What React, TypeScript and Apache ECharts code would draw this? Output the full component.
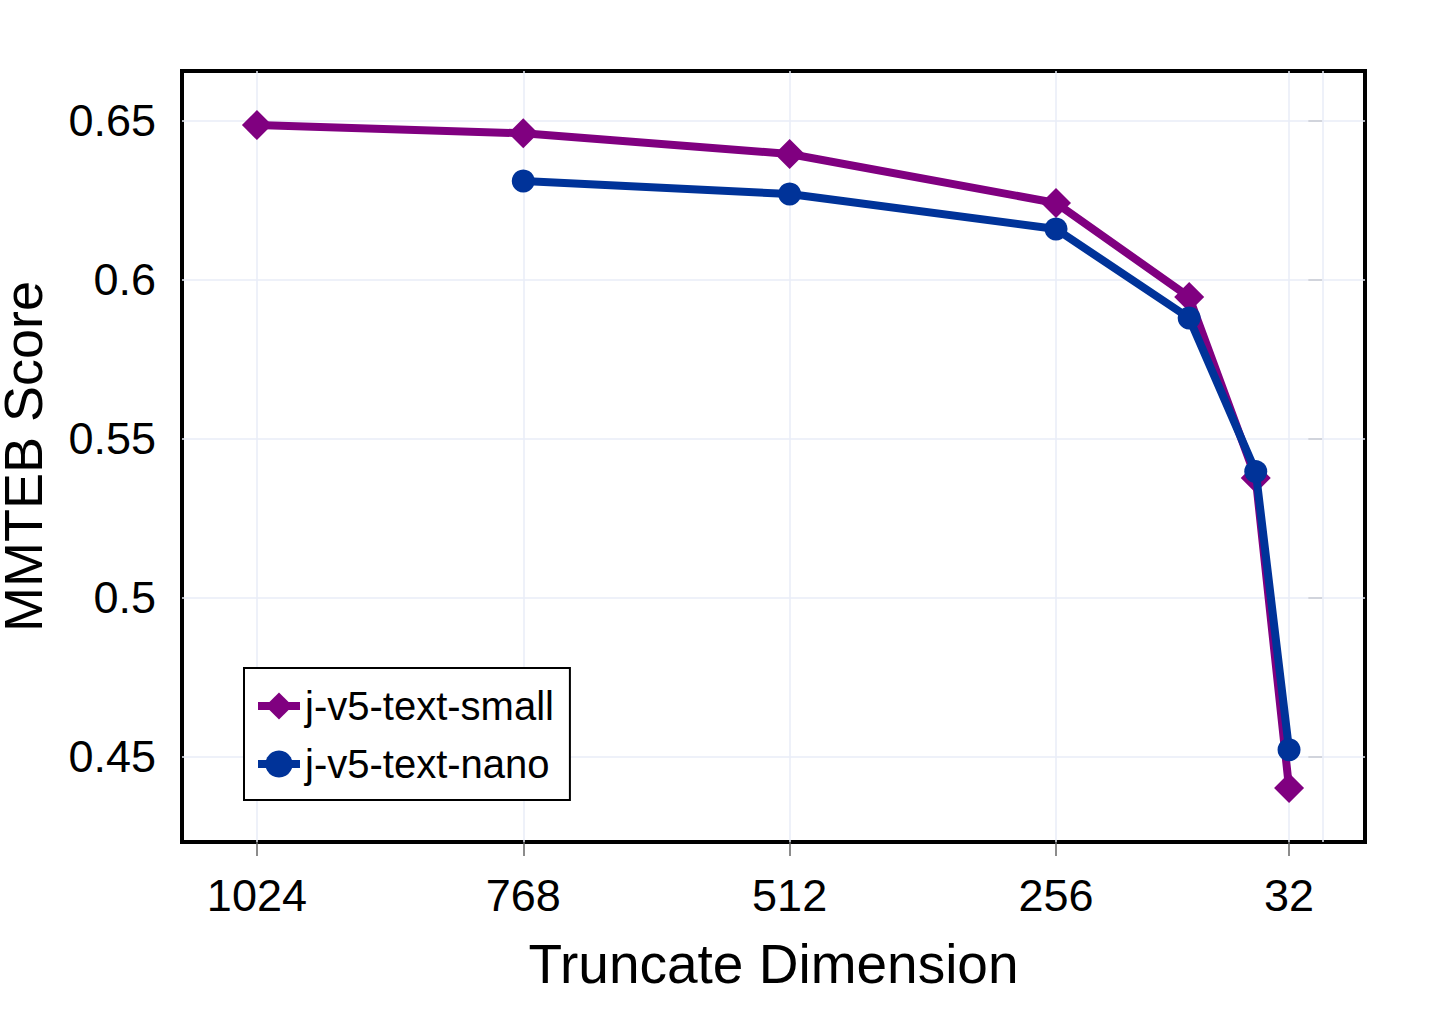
import React, { useEffect, useRef } from "react";
import * as echarts from "echarts";

const dims = [1024, 768, 512, 256, 128, 64, 32];
const smallScores = [0.6487, 0.6461, 0.6396, 0.6242, 0.5946, 0.5377, 0.4402];
const nanoScores = [null, 0.6311, 0.627, 0.616, 0.588, 0.5397, 0.4522];
const xTickValues = [1024, 768, 512, 256, 32];
const xGridValues = [1024, 768, 512, 256, 32, 0];
const yTickValues = [0.45, 0.5, 0.55, 0.6, 0.65];
const seriesNames = ["j-v5-text-small", "j-v5-text-nano"];

const FONT = "Liberation Sans, Arial, sans-serif";

export default function App() {
  const ref = useRef<HTMLDivElement>(null);
  useEffect(() => {
    if (!ref.current) return;
    const chart = echarts.init(ref.current, null, { renderer: "svg" });
    const gridStyle = { color: "#e9edf7", width: 1.5, type: "solid" };
    chart.setOption({
      animation: false,
      backgroundColor: "#ffffff",
      grid: {
        left: 182,
        top: 71,
        width: 1183,
        height: 771,
        show: true,
        containLabel: false,
        outerBoundsMode: "none",
        borderColor: "#000",
        borderWidth: 4,
        backgroundColor: "transparent",
      },
      xAxis: {
        type: "value",
        inverse: true,
        min: -41,
        max: 1096,
        name: "Truncate Dimension",
        nameLocation: "middle",
        nameGap: 94,
        nameTextStyle: { fontSize: 55, color: "#000", fontFamily: FONT },
        axisLine: { show: false },
        splitLine: { show: false },
        axisTick: {
          show: true,
          inside: false,
          length: 14,
          customValues: xTickValues,
          lineStyle: { color: "#666", width: 1.5 },
        },
        axisLabel: {
          customValues: xTickValues,
          fontSize: 45,
          color: "#000",
          fontFamily: FONT,
          margin: 31,
          formatter: (v: number) => String(v),
        },
      },
      yAxis: {
        type: "value",
        min: 0.4232,
        max: 0.6657,
        name: "MMTEB Score",
        nameLocation: "middle",
        nameGap: 132,
        nameTextStyle: { fontSize: 54, color: "#000", fontFamily: FONT },
        axisLine: { show: false },
        splitLine: { show: false },
        axisTick: {
          show: true,
          inside: false,
          length: 14,
          customValues: yTickValues,
          lineStyle: { color: "#666", width: 1.5 },
        },
        axisLabel: {
          customValues: yTickValues,
          fontSize: 45,
          color: "#000",
          fontFamily: FONT,
          margin: 26,
          formatter: (v: number) => String(Math.round(v * 100) / 100),
        },
      },
      legend: {
        left: 244,
        top: 668,
        orient: "vertical",
        padding: [18, 16, 16, 10],
        itemGap: 18,
        itemWidth: 42,
        itemHeight: 34,
        lineStyle: { width: 8 },
        borderColor: "#000",
        borderWidth: 2,
        backgroundColor: "#fff",
        textStyle: { fontSize: 40, color: "#000", fontFamily: FONT },
        data: seriesNames,
      },
      series: [
        {
          name: seriesNames[0],
          type: "line",
          data: dims.map((d, i) => [d, smallScores[i]]),
          symbol: "diamond",
          symbolSize: 30,
          lineStyle: { color: "#800080", width: 8 },
          itemStyle: { color: "#800080" },
          z: 3,
          markLine: {
            silent: true,
            symbol: ["none", "none"],
            label: { show: false },
            z: 1,
            lineStyle: gridStyle,
            data: [
              ...xGridValues.map((v) => ({ xAxis: v })),
              ...yTickValues.map((v) => ({ yAxis: v })),
            ],
          },
        },
        {
          name: seriesNames[1],
          type: "line",
          data: dims.map((d, i) => [d, nanoScores[i]]),
          symbol: "circle",
          symbolSize: 23,
          lineStyle: { color: "#003399", width: 8 },
          itemStyle: { color: "#003399" },
          z: 4,
        },
      ],
    });
    return () => chart.dispose();
  }, []);
  return (
    <div
      ref={ref}
      style={{ position: "fixed", left: 0, top: 0, width: 1435, height: 1014 }}
    />
  );
}
